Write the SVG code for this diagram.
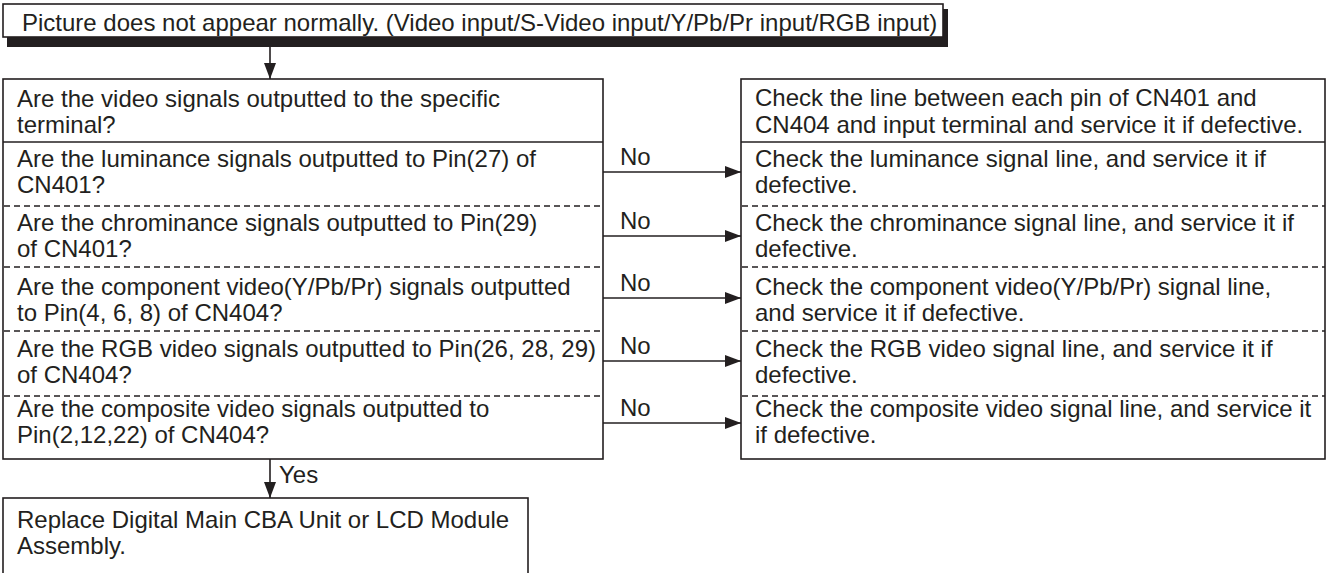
<svg xmlns="http://www.w3.org/2000/svg" width="1327" height="573" viewBox="0 0 1327 573">
<style>
text{font-family:"Liberation Sans",Arial,sans-serif;font-size:24px;fill:#231f20}
.box{fill:#fff;stroke:#231f20;stroke-width:1.6}
.sep{stroke:#231f20;stroke-width:1.4;fill:none}
.dash{stroke:#231f20;stroke-width:1.3;stroke-dasharray:6 4;fill:none}
.con{stroke:#231f20;stroke-width:1.6;fill:none;marker-end:url(#ah)}
</style>
<defs>
<marker id="ah" markerWidth="16" markerHeight="12" refX="16" refY="6" orient="auto" markerUnits="userSpaceOnUse">
<path d="M0,0 L16,6 L0,12 Z" fill="#231f20"/>
</marker>
</defs>
<rect width="1327" height="573" fill="#fff"/>
<g id="start">
<path d="M7,37 H943 V9 H948 V47 H7 Z" fill="#231f20"/>
<rect class="box" x="3" y="4" width="940" height="33"/>
<text x="22" y="31">Picture does not appear normally. (Video input/S-Video input/Y/Pb/Pr input/RGB input)</text>
</g>
<g id="checks">
<rect class="box" x="3" y="79" width="600" height="380"/>
<line class="sep" x1="3" y1="142" x2="603" y2="142"/>
<line class="dash" x1="4" y1="206" x2="603" y2="206"/>
<line class="dash" x1="4" y1="267" x2="603" y2="267"/>
<line class="dash" x1="4" y1="331" x2="603" y2="331"/>
<line class="dash" x1="4" y1="396" x2="603" y2="396"/>
<text x="17" y="107">Are the video signals outputted to the specific</text>
<text x="17" y="133">terminal?</text>
<text x="17" y="167">Are the luminance signals outputted to Pin(27) of</text>
<text x="17" y="193">CN401?</text>
<text x="17" y="231">Are the chrominance signals outputted to Pin(29)</text>
<text x="17" y="257">of CN401?</text>
<text x="17" y="295">Are the component video(Y/Pb/Pr) signals outputted</text>
<text x="17" y="321">to Pin(4, 6, 8) of CN404?</text>
<text x="17" y="357">Are the RGB video signals outputted to Pin(26, 28, 29)</text>
<text x="17" y="383">of CN404?</text>
<text x="17" y="417">Are the composite video signals outputted to</text>
<text x="17" y="443">Pin(2,12,22) of CN404?</text>
</g>
<g id="actions">
<rect class="box" x="741" y="79" width="584" height="380"/>
<line class="sep" x1="741" y1="142" x2="1325" y2="142"/>
<line class="dash" x1="742" y1="206" x2="1325" y2="206"/>
<line class="dash" x1="742" y1="267" x2="1325" y2="267"/>
<line class="dash" x1="742" y1="331" x2="1325" y2="331"/>
<line class="dash" x1="742" y1="396" x2="1325" y2="396"/>
<text x="755" y="106">Check the line between each pin of CN401 and</text>
<text x="755" y="133">CN404 and input terminal and service it if defective.</text>
<text x="755" y="167">Check the luminance signal line, and service it if</text>
<text x="755" y="193">defective.</text>
<text x="755" y="231">Check the chrominance signal line, and service it if</text>
<text x="755" y="257">defective.</text>
<text x="755" y="295">Check the component video(Y/Pb/Pr) signal line,</text>
<text x="755" y="321">and service it if defective.</text>
<text x="755" y="357">Check the RGB video signal line, and service it if</text>
<text x="755" y="383">defective.</text>
<text x="755" y="417">Check the composite video signal line, and service it</text>
<text x="755" y="443">if defective.</text>
</g>
<g id="replace">
<rect class="box" x="3" y="498" width="525" height="90"/>
<text x="17" y="528">Replace Digital Main CBA Unit or LCD Module</text>
<text x="17" y="554">Assembly.</text>
</g>
<g id="connectors">
<line class="con" x1="270" y1="47" x2="270" y2="79"/>
<line class="con" x1="270" y1="459" x2="270" y2="498"/>
<line class="con" x1="603" y1="172" x2="741" y2="172"/>
<line class="con" x1="603" y1="236" x2="741" y2="236"/>
<line class="con" x1="603" y1="298" x2="741" y2="298"/>
<line class="con" x1="603" y1="361" x2="741" y2="361"/>
<line class="con" x1="603" y1="423" x2="741" y2="423"/>
<text x="620" y="165">No</text>
<text x="620" y="229">No</text>
<text x="620" y="291">No</text>
<text x="620" y="354">No</text>
<text x="620" y="416">No</text>
<text x="279" y="483">Yes</text>
</g>
</svg>
